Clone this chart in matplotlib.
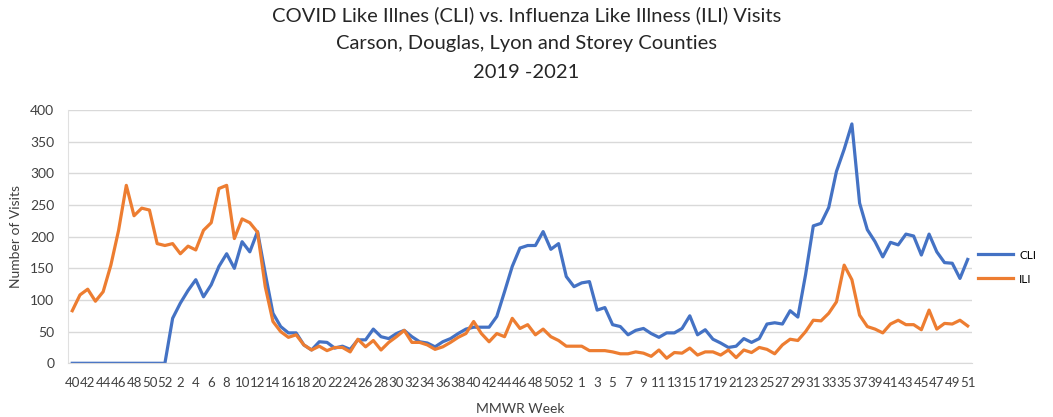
import matplotlib
matplotlib.use("Agg")
import matplotlib.pyplot as plt

# MMWR weeks: 2019 wk 40-52, 2020 wk 1-53, 2021 wk 1-51
WEEKS_2019 = list(range(40, 53))
WEEKS_2020 = list(range(1, 54))
WEEKS_2021 = list(range(1, 52))
WEEKS = WEEKS_2019 + WEEKS_2020 + WEEKS_2021

CLI = [0, 0, 0, 0, 0, 0, 0, 0, 0, 0, 0, 0, 0,
       71, 95, 115, 132, 105, 124, 153, 173, 150, 192, 176, 208, 142, 79, 58,
       48, 48, 29, 21, 34, 33, 24, 27, 22, 37, 37, 54, 42, 39, 47, 52, 42, 34,
       32, 26, 34, 39, 47, 54, 57, 57, 57, 74, 113, 153, 182, 186, 186, 208,
       180, 189, 137, 121, 127, 129, 84, 88, 61, 58, 45, 52, 55, 47, 41, 48,
       48, 55, 75, 45, 53, 38, 32, 25, 27, 39, 33, 39, 62, 64, 62, 83, 73, 140,
       217, 221, 246, 303, 338, 378, 253, 211, 192, 168, 191, 187, 204, 201,
       171, 204, 176, 159, 158, 134, 164]

ILI = [83, 108, 117, 98, 113, 155, 210, 281, 233, 245, 242, 189, 186, 189,
       173, 185, 179, 210, 222, 276, 281, 197, 228, 222, 207, 121, 66, 50, 41,
       45, 29, 21, 27, 20, 25, 25, 18, 38, 26, 36, 21, 33, 42, 52, 33, 33, 29,
       22, 26, 33, 41, 47, 66, 47, 34, 47, 42, 71, 55, 61, 45, 54, 42, 36, 27,
       27, 27, 20, 20, 20, 18, 15, 15, 18, 16, 11, 21, 8, 17, 16, 24, 13, 18,
       18, 13, 21, 9, 21, 17, 25, 22, 15, 29, 38, 36, 50, 68, 67, 79, 97, 155,
       132, 76, 58, 54, 48, 62, 68, 61, 61, 53, 84, 54, 63, 62, 68, 59]

plt.rcParams["font.family"] = ["Lato", "DejaVu Sans"]

fig = plt.figure(figsize=(10.53, 4.17), dpi=100)
ax = fig.add_axes([0.0646, 0.1288, 0.8584, 0.6074])

x = list(range(len(WEEKS)))
ax.plot(x, CLI, color="#4472C4", lw=2.3, label="CLI", solid_joinstyle="round")
ax.plot(x, ILI, color="#ED7D31", lw=2.3, label="ILI", solid_joinstyle="round")

ax.set_xlim(-0.55, len(WEEKS) - 0.45)
ax.set_ylim(0, 400)
ax.set_yticks(range(0, 401, 50))
ax.set_xticks(x[::2])
ax.set_xticklabels([str(w) for w in WEEKS[::2]], fontsize=9.5, color="#404040")
ax.tick_params(axis="y", labelsize=10, colors="#404040", length=0, pad=10)
ax.tick_params(axis="x", length=0, pad=10)

ax.grid(axis="y", color="#d9d9d9", lw=1)
ax.set_axisbelow(True)
for side in ("top", "right"):
    ax.spines[side].set_visible(False)
ax.spines["left"].set_color("#e0e0e0")
ax.spines["bottom"].set_color("#d9d9d9")

ax.set_ylabel("Number of Visits", fontsize=10, color="#404040", labelpad=6)
ax.set_xlabel("MMWR Week", fontsize=10, color="#404040", labelpad=10)

fig.text(0.5, 0.985,
         "COVID Like Illnes (CLI) vs. Influenza Like Illness (ILI) Visits\n"
         "Carson, Douglas, Lyon and Storey Counties\n2019 -2021",
         ha="center", va="top", fontsize=14.5, color="#262626", linespacing=1.8)

ax.legend(loc="center left", bbox_to_anchor=(0.995, 0.38), frameon=False,
          fontsize=8.5, handlelength=3.0, labelspacing=1.1, handletextpad=0.5)

fig.savefig("out.png", dpi=100)
